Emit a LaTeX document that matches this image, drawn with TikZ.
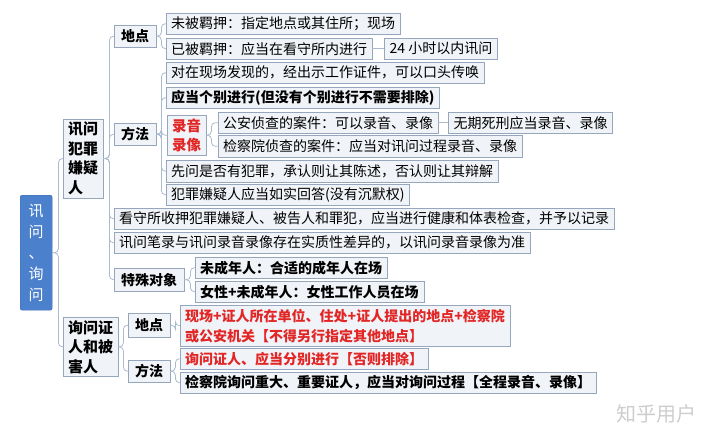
\documentclass[tikz,border=0pt]{standalone}
\usepackage{fontspec}
\setmainfont{Noto Sans CJK SC}
\usepackage{xcolor}
\usepackage{tikz}
\usetikzlibrary{positioning}
\definecolor{rootBlue}{RGB}{74, 128, 204}
\definecolor{boxFill}{RGB}{240, 243, 247}
\definecolor{boxLine}{RGB}{150, 166, 188}
\definecolor{linkGray}{RGB}{172, 186, 206}
\definecolor{alertRed}{RGB}{226, 38, 38}
\definecolor{markGray}{RGB}{205, 205, 205}

\begin{document}
\begin{tikzpicture}[x=1pt, y=-1pt]
    % Define styles
    \tikzstyle{rootbox} = [rectangle, draw=rootBlue!85!black, fill=rootBlue, text=white, rounded corners=2pt, align=center, font=\fontsize{15}{21}\selectfont, minimum width=32pt, minimum height=115pt, inner sep=0pt, anchor=north west]
    \tikzstyle{topic} = [rectangle, draw=boxLine, fill=boxFill, align=left, font=\fontsize{15}{19.5}\selectfont\bfseries, inner xsep=5pt, inner ysep=3pt, anchor=north west]
    \tikzstyle{branch} = [rectangle, draw=boxLine, fill=boxFill, font=\fontsize{14}{19}\selectfont\bfseries, inner xsep=7pt, inner ysep=2pt, minimum height=22pt, anchor=north west]
    \tikzstyle{leaf} = [rectangle, draw=boxLine, fill=boxFill, align=left, font=\fontsize{14}{20}\selectfont, inner xsep=5pt, inner ysep=2pt, minimum height=21pt, anchor=north west]
    \tikzstyle{strong} = [leaf, font=\fontsize{14}{20}\selectfont\bfseries]
    \tikzstyle{redleaf} = [strong, text=alertRed]
    \tikzstyle{link} = [draw=linkGray, line width=0.8pt, rounded corners=4pt]

    \useasboundingbox (0,0) rectangle (720,440);

    % Root
    \node [rootbox] (root) at (20,195) {讯\\问\\、\\询\\问};

    % Suspect branch
    \node [topic] (suspect) at (63,119) {讯问\\犯罪\\嫌疑\\人};
    \node [branch] (place) at (114,25) {地点};
    \node [branch] (method) at (114,123) {方法};
    \node [leaf] (custody) at (114,208) {看守所收押犯罪嫌疑人、被告人和罪犯，应当进行健康和体表检查，并予以记录};
    \node [leaf] (transcript) at (114,232) {讯问笔录与讯问录音录像存在实质性差异的，以讯问录音录像为准};
    \node [branch, minimum height=23pt] (special) at (114,268) {特殊对象};

    % Place
    \node [leaf] (free) at (166,13) {未被羁押：指定地点或其住所；现场};
    \node [leaf] (held) at (166,38) {已被羁押：应当在看守所内进行};
    \node [leaf, right=12pt of held] (hours) {24 小时以内讯问};

    % Method
    \node [leaf] (summon) at (166,62) {对在现场发现的，经出示工作证件，可以口头传唤};
    \node [strong] (separate) at (166,87) {应当个别进行(但没有个别进行不需要排除)};
    \node [redleaf, font=\fontsize{14.5}{19}\selectfont\bfseries, minimum height=40pt] (record) at (167,115) {录音\\录像};
    \node [leaf] (police) at (218,112) {公安侦查的案件：可以录音、录像};
    \node [leaf, right=10pt of police] (life) {无期死刑应当录音、录像};
    \node [leaf, minimum height=22pt] (procur) at (218,135) {检察院侦查的案件：应当对讯问过程录音、录像};
    \node [leaf, minimum height=22pt] (confess) at (166,160) {先问是否有犯罪，承认则让其陈述，否认则让其辩解};
    \node [leaf] (truth) at (166,184) {犯罪嫌疑人应当如实回答(没有沉默权)};

    % Special subjects
    \node [strong] (minor) at (195,257) {未成年人：合适的成年人在场};
    \node [strong] (female) at (195,281) {女性+未成年人：女性工作人员在场};

    % Witness branch
    \node [topic] (witness) at (63,317) {询问证\\人和被\\害人};
    \node [branch, minimum height=24pt] (wplace) at (128,313) {地点};
    \node [branch] (wmethod) at (128,360) {方法};
    \node [redleaf, minimum height=41pt] (site) at (180,305) {现场+证人所在单位、住处+证人提出的地点+检察院\\或公安机关【不得另行指定其他地点】};
    \node [redleaf] (apart) at (180,348) {询问证人、应当分别进行【否则排除】};
    \node [strong] (fullrec) at (180,372) {检察院询问重大、重要证人，应当对询问过程【全程录音、录像】};

    % Watermark
    \node [text=markGray, font=\fontsize{20}{20}\selectfont] (mark) at (656,414) {知乎用户};

    % Links
    \draw [link] (root.east) -- +(6,0) |- (suspect.west);
    \draw [link] (root.east) -- +(6,0) |- (witness.west);
    \draw [link] (suspect.east) -- +(6,0) |- (place.west);
    \draw [link] (suspect.east) -- +(6,0) |- (method.west);
    \draw [link] (suspect.east) -- +(6,0) |- (custody.west);
    \draw [link] (suspect.east) -- +(6,0) |- (transcript.west);
    \draw [link] (suspect.east) -- +(6,0) |- (special.west);
    \draw [link] (place.east) -- +(5,0) |- (free.west);
    \draw [link] (place.east) -- +(5,0) |- (held.west);
    \draw [link] (held) -- (hours);
    \draw [link] (method.east) -- +(5,0) |- (summon.west);
    \draw [link] (method.east) -- +(5,0) |- (separate.west);
    \draw [link] (method.east) -- +(5,0) |- (record.west);
    \draw [link] (method.east) -- +(5,0) |- (confess.west);
    \draw [link] (method.east) -- +(5,0) |- (truth.west);
    \draw [link] (record.east) -- +(5,0) |- (police.west);
    \draw [link] (record.east) -- +(5,0) |- (procur.west);
    \draw [link] (police) -- (life);
    \draw [link] (special.east) -- +(6,0) |- (minor.west);
    \draw [link] (special.east) -- +(6,0) |- (female.west);
    \draw [link] (witness.east) -- +(5,0) |- (wplace.west);
    \draw [link] (witness.east) -- +(5,0) |- (wmethod.west);
    \draw [link] (wplace.east) -- +(5,0) |- (site.west);
    \draw [link] (wmethod.east) -- +(5,0) |- (apart.west);
    \draw [link] (wmethod.east) -- +(5,0) |- (fullrec.west);
\end{tikzpicture}
\end{document}
